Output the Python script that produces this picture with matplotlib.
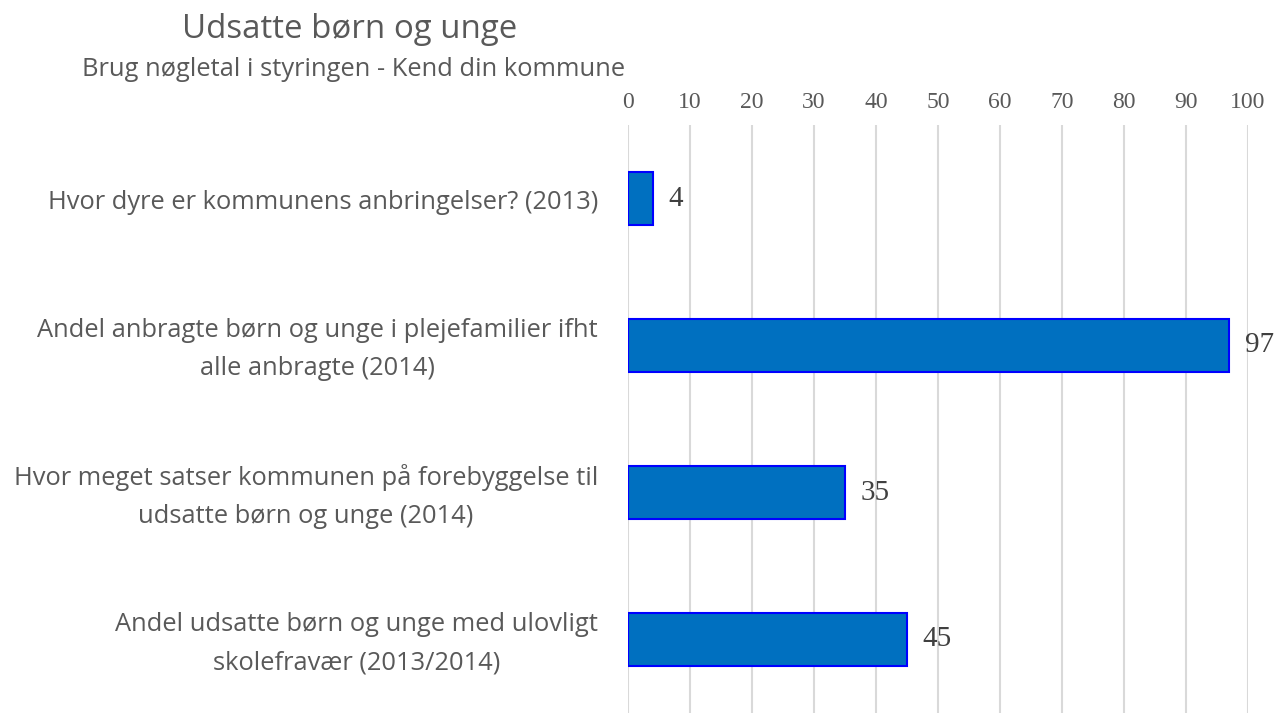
import matplotlib.pyplot as plt

categories = [
    "Hvor dyre er kommunens anbringelser? (2013)",
    "Andel anbragte børn og unge i plejefamilier ifht\nalle anbragte (2014)",
    "Hvor meget satser kommunen på forebyggelse til\nudsatte børn og unge (2014)",
    "Andel udsatte børn og unge med ulovligt\nskolefravær (2013/2014)",
]
values = [4, 97, 35, 45]
ticks = list(range(0, 101, 10))

W, H = 1276, 713
fig = plt.figure(figsize=(W / 100, H / 100), dpi=100)
ax = fig.add_axes([628 / W, 0, 620 / W, 1 - 125 / H])

ypos = list(range(len(categories)))
ax.barh(ypos, values, height=0.36, color="#0070c0", edgecolor="#0000ff", linewidth=1.5, zorder=3)
ax.set_ylim(len(categories) - 0.5, -0.5)
ax.set_xlim(0, 100)

ax.set_xticks(ticks)
ax.xaxis.tick_top()
ax.tick_params(axis="x", length=0, pad=9, labelsize=17, labelcolor="#595959")
for lbl in ax.get_xticklabels():
    lbl.set_fontfamily("Liberation Serif")
ax.set_yticks([])
ax.grid(axis="x", color="#d9d9d9", linewidth=1.5, zorder=0)
for s in ax.spines.values():
    s.set_visible(False)

for y, v in zip(ypos, values):
    ax.text(v + 2.5, y, str(v), va="center", ha="left", fontsize=21,
            family="Liberation Serif", color="#404040")

# category labels, centred lines, right edge just left of the axis
for y, c in zip(ypos, categories):
    ax.annotate(c, xy=(0, y), xycoords=("axes fraction", "data"), xytext=(-21.6, -3),
                textcoords="offset points", ha="right", va="center", multialignment="center",
                fontsize=18.4, family="Open Sans", color="#595959", linespacing=1.7)

fig.text(350 / W, 1 - 30 / H, "Udsatte børn og unge", ha="center", va="center",
         fontsize=23.8, family="Open Sans", color="#595959")
fig.text(354 / W, 1 - 69 / H, "Brug nøgletal i styringen - Kend din kommune", ha="center", va="center",
         fontsize=18.4, family="Open Sans", color="#595959")

fig.savefig("out.png", dpi=100)
